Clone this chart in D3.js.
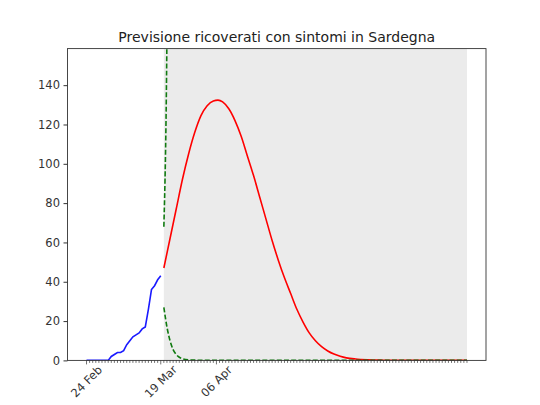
<!DOCTYPE html>
<html>
<head>
<meta charset="utf-8">
<script src="https://cdn.jsdelivr.net/npm/d3@7"></script>
<style>
  body { margin: 0; background: #fff; }
  text { font-family: "DejaVu Sans", sans-serif; }
</style>
</head>
<body>
<div id="chart"></div>
<script>
// observed daily values, starting 24 Feb 2020
var startDate = new Date(2020, 1, 24);
var obsValues = [0, 0, 0, 0, 0, 0, 0, 0, 2, 3, 4, 4, 5, 8, 10, 12, 13, 14, 16, 17, 26, 36, 38, 41, 43];

// forecast (day offset from start, value)
var predDays   = [25, 27, 29, 31, 33, 35, 37, 39, 41, 42.5, 44, 46, 48, 50, 52, 54, 56, 58, 60, 62, 64, 66,
                  68, 70, 72, 74, 76, 78, 80, 82, 84, 87, 91, 96, 102, 123];
var predValues = [47, 62, 77, 92, 105, 116, 124.5, 129.5, 132, 132.4, 131.5, 128, 122, 114, 104, 94, 83, 72, 61, 51, 42, 34,
                  26, 19.5, 14, 10, 7, 4.8, 3.2, 2.1, 1.3, 0.7, 0.3, 0.1, 0, 0];

var lowerDays   = [25, 26, 27, 28, 29, 30, 31, 33, 36, 40, 123];
var lowerValues = [27, 17, 10, 5.5, 3, 1.6, 0.9, 0.3, 0.1, 0, 0];

var upperDays   = [25, 26, 27];
var upperValues = [68, 165, 420];

var lastDay = 123;
var labelDays = [0, 24, 42];
var yTicks = [0, 20, 40, 60, 80, 100, 120, 140];
var title = "Previsione ricoverati con sintomi in Sardegna";

var width = 540, height = 405;
var margin = {left: 67.5, right: 54, top: 48.6, bottom: 44.6};
var w = width - margin.left - margin.right,
    h = height - margin.top - margin.bottom;

function dayToDate(d) { return new Date(startDate.getTime() + d * 864e5); }

var pad = lastDay * 0.05;
var x = d3.scaleTime()
    .domain([dayToDate(-pad), dayToDate(lastDay + pad)])
    .range([0, w]);
var y = d3.scaleLinear().domain([0, 158.6]).range([h, 0]);

var svg = d3.select("#chart").append("svg")
    .attr("width", width).attr("height", height);

svg.append("text")
    .attr("x", margin.left + w / 2)
    .attr("y", margin.top - 7)
    .attr("text-anchor", "middle")
    .attr("font-size", "14px")
    .attr("fill", "#222")
    .text(title);

var g = svg.append("g").attr("transform", "translate(" + margin.left + "," + margin.top + ")");

g.append("clipPath").attr("id", "clip")
  .append("rect").attr("width", w).attr("height", h);

var plot = g.append("g").attr("clip-path", "url(#clip)");

// forecast region
plot.append("rect")
    .attr("x", x(dayToDate(25)))
    .attr("y", 0)
    .attr("width", x(dayToDate(lastDay)) - x(dayToDate(25)))
    .attr("height", h)
    .attr("fill", "#ebebeb");

function pairs(days, vals) { return days.map(function(d, i) { return [d, vals[i]]; }); }

var straight = d3.line()
    .x(function(d) { return x(dayToDate(d[0])); })
    .y(function(d) { return y(d[1]); });

var smooth = d3.line()
    .x(function(d) { return x(dayToDate(d[0])); })
    .y(function(d) { return y(d[1]); })
    .curve(d3.curveMonotoneX);

plot.append("path")
    .datum(obsValues.map(function(v, i) { return [i, v]; }))
    .attr("fill", "none").attr("stroke", "#1a1aff").attr("stroke-width", 1.6)
    .attr("d", straight);

plot.append("path")
    .datum(pairs(predDays, predValues))
    .attr("fill", "none").attr("stroke", "#ff0000").attr("stroke-width", 1.6)
    .attr("d", smooth);

[[upperDays, upperValues], [lowerDays, lowerValues]].forEach(function(s) {
  plot.append("path")
      .datum(pairs(s[0], s[1]))
      .attr("fill", "none").attr("stroke", "#107a10").attr("stroke-width", 1.6)
      .attr("stroke-dasharray", "5,2.2")
      .attr("d", smooth);
});

// axes frame
g.append("rect")
    .attr("width", w).attr("height", h)
    .attr("fill", "none").attr("stroke", "#333").attr("stroke-width", 0.9);

// y axis
var yAxis = g.append("g")
    .call(d3.axisLeft(y).tickValues(yTicks).tickSize(4).tickPadding(3.5));
yAxis.select(".domain").remove();
yAxis.selectAll("line").attr("stroke", "#333");
yAxis.selectAll("text").attr("font-size", "11.5px").attr("fill", "#333")
    .attr("font-family", "DejaVu Sans, sans-serif");

// x minor ticks, one per day
var allDays = d3.range(0, lastDay + 1);
g.append("g").selectAll("line").data(allDays).join("line")
    .attr("x1", function(d) { return x(dayToDate(d)); })
    .attr("x2", function(d) { return x(dayToDate(d)); })
    .attr("y1", h).attr("y2", function(d) { return h + (labelDays.indexOf(d) >= 0 ? 4 : 2.5); })
    .attr("stroke", "#333").attr("stroke-width", 0.7);

var fmt = d3.timeFormat("%d %b");
g.append("g").selectAll("text").data(labelDays).join("text")
    .attr("transform", function(d) { return "translate(" + x(dayToDate(d)) + "," + (h + 21) + ") rotate(-45)"; })
    .attr("text-anchor", "middle")
    .attr("dy", "0.35em")
    .attr("font-size", "11.5px")
    .attr("fill", "#333")
    .text(function(d) { return fmt(dayToDate(d)); });
</script>
</body>
</html>
